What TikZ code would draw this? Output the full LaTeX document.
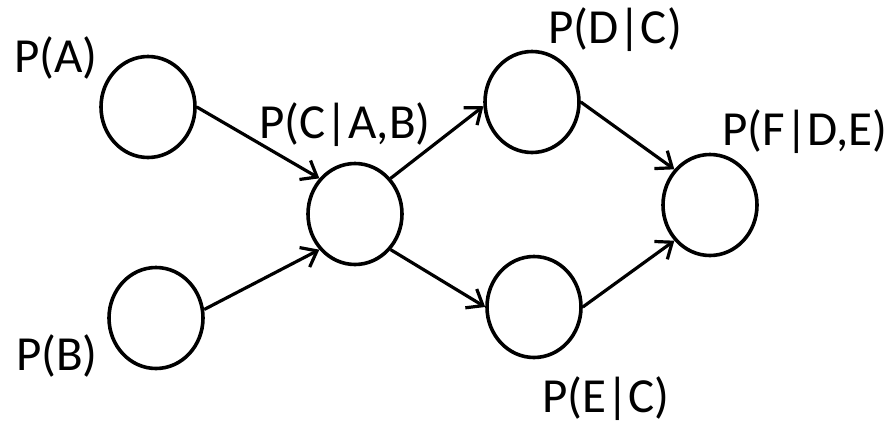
\documentclass[tikz,border=0pt]{standalone}
\usepackage{fontspec}
\setmainfont{Carlito}
\usetikzlibrary{arrows.meta,shapes.geometric}
\begin{document}
\begin{tikzpicture}[x=1pt,y=-1pt,
  var/.style={ellipse,draw,line width=3.6pt,minimum width=94pt,minimum height=101pt,inner sep=0pt},
  lbl/.style={anchor=base,inner sep=0pt,font=\fontsize{49}{58}\selectfont},
  edge/.style={line width=3.2pt,-{Straight Barb[length=14pt,width=22pt,line width=3.2pt]}}]
\useasboundingbox (0,0) rectangle (894,423);
% variables
\node[var] (A) at (148,107) {};
\node[var] (B) at (156,318) {};
\node[var] (C) at (355,214) {};
\node[var] (D) at (532,102) {};
\node[var] (E) at (534,307) {};
\node[var] (F) at (710,205) {};
% probability labels
\node[lbl] (lA) at (56,72) {P(A)};
\node[lbl] (lB) at (57,370) {P(B)};
\node[lbl] (lC) at (345,138) {P(C|A,B)};
\node[lbl] (lD) at (615,43) {P(D|C)};
\node[lbl] (lF) at (805,145) {P(F|D,E)};
\node[lbl] (lE) at (606,412) {P(E|C)};
% dependencies
\draw[edge] (A.east) -- (C.135);
\draw[edge] (B.10) -- (C.225);
\draw[edge] (C.45) -- (D.185);
\draw[edge] (C.-45) -- (E.west);
\draw[edge] (D.east) -- (F.135);
\draw[edge] (E.east) -- (F.225);
\end{tikzpicture}
\end{document}
